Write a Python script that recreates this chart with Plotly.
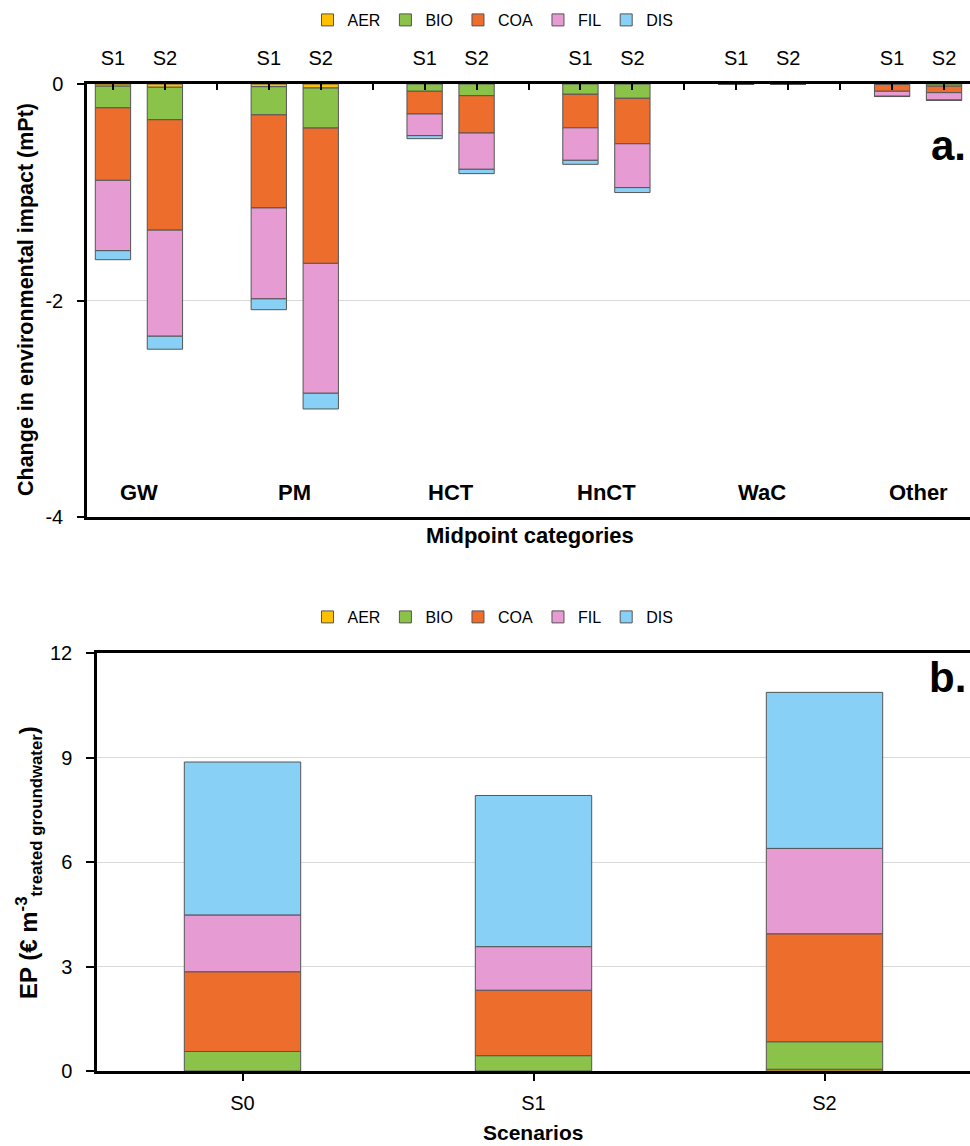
import plotly.graph_objects as go

# ---------------- data ----------------
components = ["AER", "BIO", "COA", "FIL", "DIS"]
colors = ["#FFC000", "#8BC34A", "#ED6D2D", "#E69BD2", "#89D0F6"]

categories = ["GW", "PM", "HCT", "HnCT", "WaC", "Other"]
scen_a = ["S1", "S2"]

AER_S1 = [-0.020, -0.025, 0.0, 0.0, 0.0, 0.0]
AER_S2 = [-0.030, -0.037, 0.0, 0.0, 0.0, 0.0]
BIO_S1 = [-0.200, -0.260, -0.067, -0.095, -0.004, -0.005]
BIO_S2 = [-0.300, -0.370, -0.108, -0.132, 0.0, -0.020]
COA_S1 = [-0.670, -0.860, -0.210, -0.310, 0.0, -0.062]
COA_S2 = [-1.020, -1.250, -0.345, -0.420, 0.0, -0.060]
FIL_S1 = [-0.650, -0.840, -0.200, -0.300, 0.0, -0.046]
FIL_S2 = [-0.980, -1.200, -0.335, -0.405, 0.0, -0.068]
DIS_S1 = [-0.083, -0.100, -0.028, -0.037, 0.0, -0.003]
DIS_S2 = [-0.120, -0.145, -0.040, -0.046, 0.0, -0.004]

scen_b = ["S0", "S1", "S2"]
AER_b = [0.0, 0.0, 0.05]
BIO_b = [0.56, 0.44, 0.79]
COA_b = [2.29, 1.88, 3.10]
FIL_b = [1.63, 1.25, 2.45]
DIS_b = [4.39, 4.34, 4.48]

y_ticks_a = [-4, -2, 0]
y_ticks_b = [0, 3, 6, 9, 12]

# ---------------- figure ----------------
W, H = 970, 1146
FONT = "Liberation Sans, Arial, sans-serif"

series_a = {
    "AER": (AER_S1, AER_S2),
    "BIO": (BIO_S1, BIO_S2),
    "COA": (COA_S1, COA_S2),
    "FIL": (FIL_S1, FIL_S2),
    "DIS": (DIS_S1, DIS_S2),
}
series_b = {"AER": AER_b, "BIO": BIO_b, "COA": COA_b, "FIL": FIL_b, "DIS": DIS_b}

slot = len(scen_a) + 1
n_slots = len(categories) * slot - 1

fig = go.Figure()
line_style = dict(color="#555555", width=1)

for comp, col in zip(components, colors):
    s1, s2 = series_a[comp]
    xs, ys = [], []
    for g in range(len(categories)):
        for k, vals in enumerate((s1, s2)):
            xs.append(g * slot + k)
            ys.append(vals[g])
    fig.add_trace(go.Bar(
        x=xs, y=ys, name=comp, marker=dict(color=col, line=line_style),
        width=0.68, xaxis="x", yaxis="y", legend="legend",
    ))

for comp, col in zip(components, colors):
    fig.add_trace(go.Bar(
        x=list(range(len(scen_b))), y=series_b[comp], name=comp,
        marker=dict(color=col, line=line_style),
        width=0.4, xaxis="x2", yaxis="y2", legend="legend2",
    ))

tickvals_a = list(range(n_slots))
ticktext_a = [(scen_a[i % slot] if i % slot < len(scen_a) else "") for i in tickvals_a]

def py(p):  # pixel from top -> paper y
    return 1 - p / H

def px(p):
    return p / W

axis_font = dict(family=FONT, size=20, color="#000")

fig.update_layout(
    width=W, height=H,
    margin=dict(l=0, r=0, t=0, b=0, autoexpand=False),
    paper_bgcolor="white", plot_bgcolor="white",
    barmode="relative",
    font=dict(family=FONT, color="#000"),
    xaxis=dict(
        domain=[px(87), 1], anchor="y", side="top",
        range=[-0.5, n_slots - 0.5],
        tickmode="array", tickvals=tickvals_a, ticktext=ticktext_a,
        ticks="inside", ticklen=6, tickwidth=1.5, tickcolor="#000",
        ticklabelstandoff=8,
        showline=True, linecolor="#000", linewidth=2.5, mirror=True,
        showgrid=False, zeroline=False, tickfont=axis_font,
    ),
    yaxis=dict(
        domain=[py(517), py(84)], anchor="x",
        range=[-4, 0], tickmode="array", tickvals=y_ticks_a,
        ticktext=[str(v) for v in y_ticks_a],
        ticks="outside", ticklen=7, tickwidth=1.5, tickcolor="#000",
        ticklabelstandoff=10,
        showline=True, linecolor="#000", linewidth=2.5,
        showgrid=True, gridcolor="#D9D9D9", gridwidth=1, zeroline=False,
        tickfont=axis_font,
    ),
    xaxis2=dict(
        domain=[px(97), 1], anchor="y2",
        range=[-0.5, len(scen_b) - 0.5],
        tickmode="array", tickvals=list(range(len(scen_b))), ticktext=scen_b,
        ticks="outside", ticklen=7, tickwidth=1.5, tickcolor="#000",
        ticklabelstandoff=5,
        showline=True, linecolor="#000", linewidth=2.5, mirror=True,
        showgrid=False, zeroline=False, tickfont=axis_font,
    ),
    yaxis2=dict(
        domain=[py(1071), py(653)], anchor="x2",
        range=[0, 12], tickmode="array", tickvals=y_ticks_b,
        ticks="outside", ticklen=8, tickwidth=1.5, tickcolor="#000",
        ticklabelstandoff=10,
        showline=True, linecolor="#000", linewidth=2.5,
        showgrid=True, gridcolor="#D9D9D9", gridwidth=1, zeroline=False,
        tickfont=axis_font,
    ),
    legend=dict(
        orientation="h", x=px(493), xanchor="center", y=py(20), yanchor="middle",
        font=dict(family=FONT, size=16), traceorder="normal",
        itemwidth=30, bgcolor="rgba(0,0,0,0)",
    ),
    legend2=dict(
        orientation="h", x=px(493), xanchor="center", y=py(617), yanchor="middle",
        font=dict(family=FONT, size=16), traceorder="normal",
        itemwidth=30, bgcolor="rgba(0,0,0,0)",
    ),
    showlegend=True,
)

ann = []
for g, cat in enumerate(categories):
    ann.append(dict(x=g * slot + 0.5, y=-3.77, xref="x", yref="y", text=f"<b>{cat}</b>",
                    showarrow=False, font=dict(family=FONT, size=22, color="#000")))
ann += [
    dict(x=px(968), y=py(145), xref="paper", yref="paper", xanchor="right", yanchor="middle",
         text="<b>a.</b>", showarrow=False, font=dict(family=FONT, size=42, color="#000")),
    dict(x=px(968), y=py(677), xref="paper", yref="paper", xanchor="right", yanchor="middle",
         text="<b>b.</b>", showarrow=False, font=dict(family=FONT, size=42, color="#000")),
    dict(x=px(530), y=py(535), xref="paper", yref="paper", yanchor="middle",
         text="<b>Midpoint categories</b>", showarrow=False,
         font=dict(family=FONT, size=22, color="#000")),
    dict(x=px(533), y=py(1132), xref="paper", yref="paper", yanchor="middle",
         text="<b>Scenarios</b>", showarrow=False,
         font=dict(family=FONT, size=21, color="#000")),
    dict(x=px(26), y=py(300), xref="paper", yref="paper", xanchor="center", yanchor="middle",
         textangle=-90, text="<b>Change in environmental impact (mPt)</b>", showarrow=False,
         font=dict(family=FONT, size=21.5, color="#000")),
    dict(x=px(29), y=py(863), xref="paper", yref="paper", xanchor="center", yanchor="middle",
         textangle=-90, text="<b>EP (€ m<sup>-3</sup><sub>treated groundwater</sub>)</b>",
         showarrow=False, font=dict(family=FONT, size=24, color="#000")),
]
fig.update_layout(annotations=ann)

fig.write_html(
    "out.html",
    config={"displayModeBar": False},
    post_script=(
        "document.documentElement.style.margin='0';"
        "document.body.style.margin='0';document.body.style.overflow='hidden';"
        "var d=document.getElementById('{plot_id}');"
        "d.style.position='fixed';d.style.top='0px';d.style.left='0px';"
    ),
)
